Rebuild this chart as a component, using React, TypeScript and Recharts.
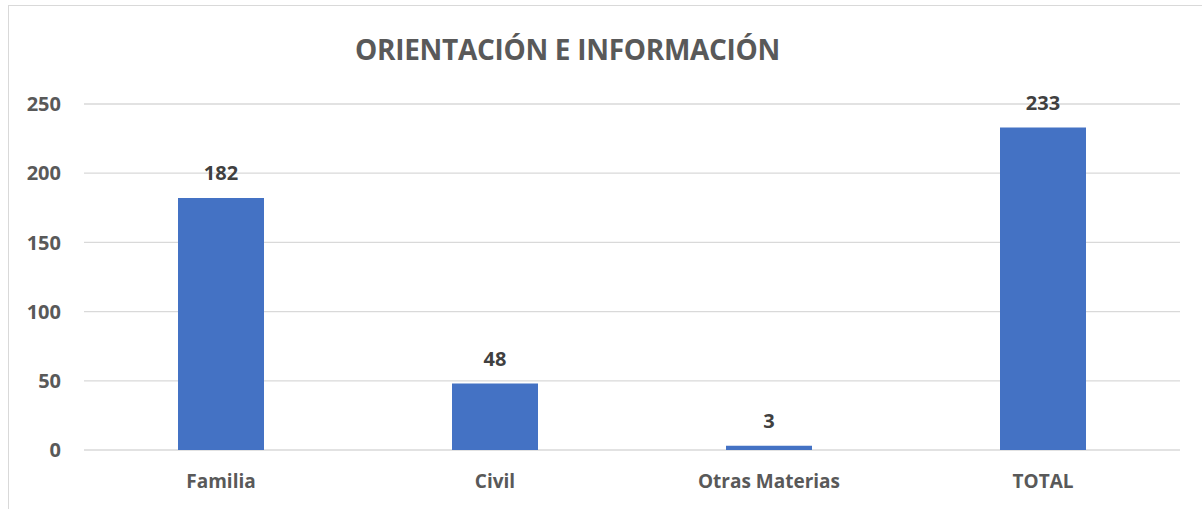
import { BarChart, Bar, XAxis, YAxis, CartesianGrid, LabelList } from "recharts";

const categories = ["Familia", "Civil", "Otras Materias", "TOTAL"];
const counts = [182, 48, 3, 233];
const yTicks = [0, 50, 100, 150, 200, 250];

const data = categories.map((name, i) => ({ name, value: counts[i] }));

const FONT = "'Open Sans', 'Noto Sans', sans-serif";
const TEXT = "#595959";

export default function App() {
  return (
    <div style={{ position: "absolute", left: 0, top: 0, width: 1202, height: 509, background: "#fff" }}>
      <div
        style={{
          position: "absolute",
          left: 8,
          top: 5,
          width: 1194,
          height: 504,
          borderTop: "1px solid #d9d9d9",
          borderLeft: "1px solid #d9d9d9",
          boxSizing: "border-box",
        }}
      />
      <div
        style={{
          position: "absolute",
          left: 355,
          width: 422,
          top: 30,
          textAlign: "center",
          fontFamily: FONT,
          fontWeight: 700,
          fontSize: 28,
          color: TEXT,
          whiteSpace: "nowrap",
          letterSpacing: -0.3,
        }}
      >
        ORIENTACIÓN E INFORMACIÓN
      </div>
      <div style={{ position: "absolute", left: 0, top: 0 }}>
        <BarChart
          width={1202}
          height={509}
          data={data}
          margin={{ top: 104, right: 22, bottom: 29, left: 0 }}
        >
          <CartesianGrid vertical={false} stroke="#d9d9d9" strokeWidth={1.3} />
          <XAxis
            dataKey="name"
            axisLine={false}
            tickLine={false}
            tickSize={0}
            tickMargin={25}
            height={30}
            tick={{ fill: TEXT, fontSize: 19, fontWeight: 700, fontFamily: FONT }}
          />
          <YAxis
            domain={[0, 250]}
            ticks={yTicks}
            axisLine={false}
            tickLine={false}
            tickSize={0}
            tickMargin={23}
            width={84}
            tick={{ fill: TEXT, fontSize: 20, fontWeight: 700, fontFamily: FONT }}
          />
          <Bar dataKey="value" fill="#4472C4" barSize={86} isAnimationActive={false}>
            <LabelList
              dataKey="value"
              position="top"
              offset={18}
              fill="#404040"
              style={{ fontSize: 20, fontWeight: 700, fontFamily: FONT }}
            />
          </Bar>
        </BarChart>
      </div>
    </div>
  );
}
